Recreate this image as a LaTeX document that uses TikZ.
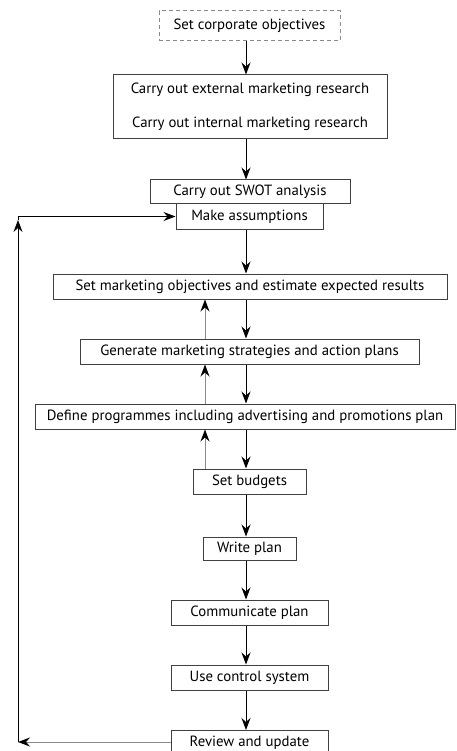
\documentclass[tikz,border=0pt]{standalone}
\usepackage{fontspec}
\setmainfont{PT Sans}
\usetikzlibrary{arrows.meta}
\definecolor{boxgray}{HTML}{404040}
\definecolor{upgray}{HTML}{8A8A8A}
\tikzset{
  box/.style={draw=boxgray, line width=1pt, inner sep=0pt, align=center, font=\fontsize{14.8}{17}\selectfont},
  arr/.style={draw=black, line width=1pt, -{Stealth[length=12pt,width=9pt,inset=4pt]}},
  uparr/.style={draw=upgray, line width=1pt, -{Stealth[length=12pt,width=9pt,inset=4pt,color=black]}},
}
\begin{document}
\begin{tikzpicture}[x=1pt,y=-1pt]
\clip (0,0) rectangle (456,751);
\useasboundingbox (0,0) rectangle (456,751);
\node[box, draw=upgray, dashed, dash pattern=on 4pt off 3pt, minimum width=181pt, minimum height=30pt] (sco) at (249.5,26) {Set corporate objectives};
\node[box, minimum width=274pt, minimum height=64pt] (res) at (250,107) {Carry out external marketing research\\[17pt]Carry out internal marketing research};
\node[box, minimum width=200pt, minimum height=24pt] (swot) at (250,192) {Carry out SWOT analysis};
\node[box, minimum width=147pt, minimum height=25pt] (ma) at (249.5,216.5) {Make assumptions};
\node[box, minimum width=394pt, minimum height=25pt] (smo) at (250,286.5) {Set marketing objectives and estimate expected results};
\node[box, minimum width=339pt, minimum height=25pt] (gen) at (249.5,351.5) {Generate marketing strategies and action plans};
\node[box, minimum width=420pt, minimum height=25pt] (def) at (245,416.5) {Define programmes including advertising and promotions plan};
\node[box, minimum width=113pt, minimum height=25pt] (sb) at (249.5,481.5) {Set budgets};
\node[box, minimum width=93pt, minimum height=23pt] (wp) at (249.5,548.5) {Write plan};
\node[box, minimum width=157pt, minimum height=25pt] (cp) at (249.5,612.5) {Communicate plan};
\node[box, minimum width=157pt, minimum height=25pt] (ucs) at (249.5,677.5) {Use control system};
\node[box, minimum width=157pt, minimum height=25pt, anchor=north] (ru) at (249.5,730) {Review and update};
\coordinate (dx) at (246,0);
\coordinate (ux) at (205,0);
\coordinate (fbl) at (18,0);
\draw[arr] (sco.south -| dx) -- (res.north -| dx);
\draw[arr] (res.south -| dx) -- (swot.north -| dx);
\draw[arr] (ma.south -| dx) -- (smo.north -| dx);
\draw[arr] (smo.south -| dx) -- (gen.north -| dx);
\draw[arr] (gen.south -| dx) -- (def.north -| dx);
\draw[arr] (def.south -| dx) -- (sb.north -| dx);
\draw[arr] (sb.south -| dx) -- (wp.north -| dx);
\draw[arr] (wp.south -| dx) -- (cp.north -| dx);
\draw[arr] (cp.south -| dx) -- (ucs.north -| dx);
\draw[arr] (ucs.south -| dx) -- (ru.north -| dx);
\draw[uparr] (gen.north -| ux) -- (smo.south -| ux);
\draw[uparr] (def.north -| ux) -- (gen.south -| ux);
\draw[uparr] (sb.north -| ux) -- (def.south -| ux);
\coordinate (fbb) at (18,742);
\coordinate (fbt) at (18,220);
\draw[uparr] (ru.west |- fbb) -- (fbb);
\draw[arr] (fbb) -- (fbt);
\draw[arr] (fbt) |- (ma.west);
\end{tikzpicture}
\end{document}
